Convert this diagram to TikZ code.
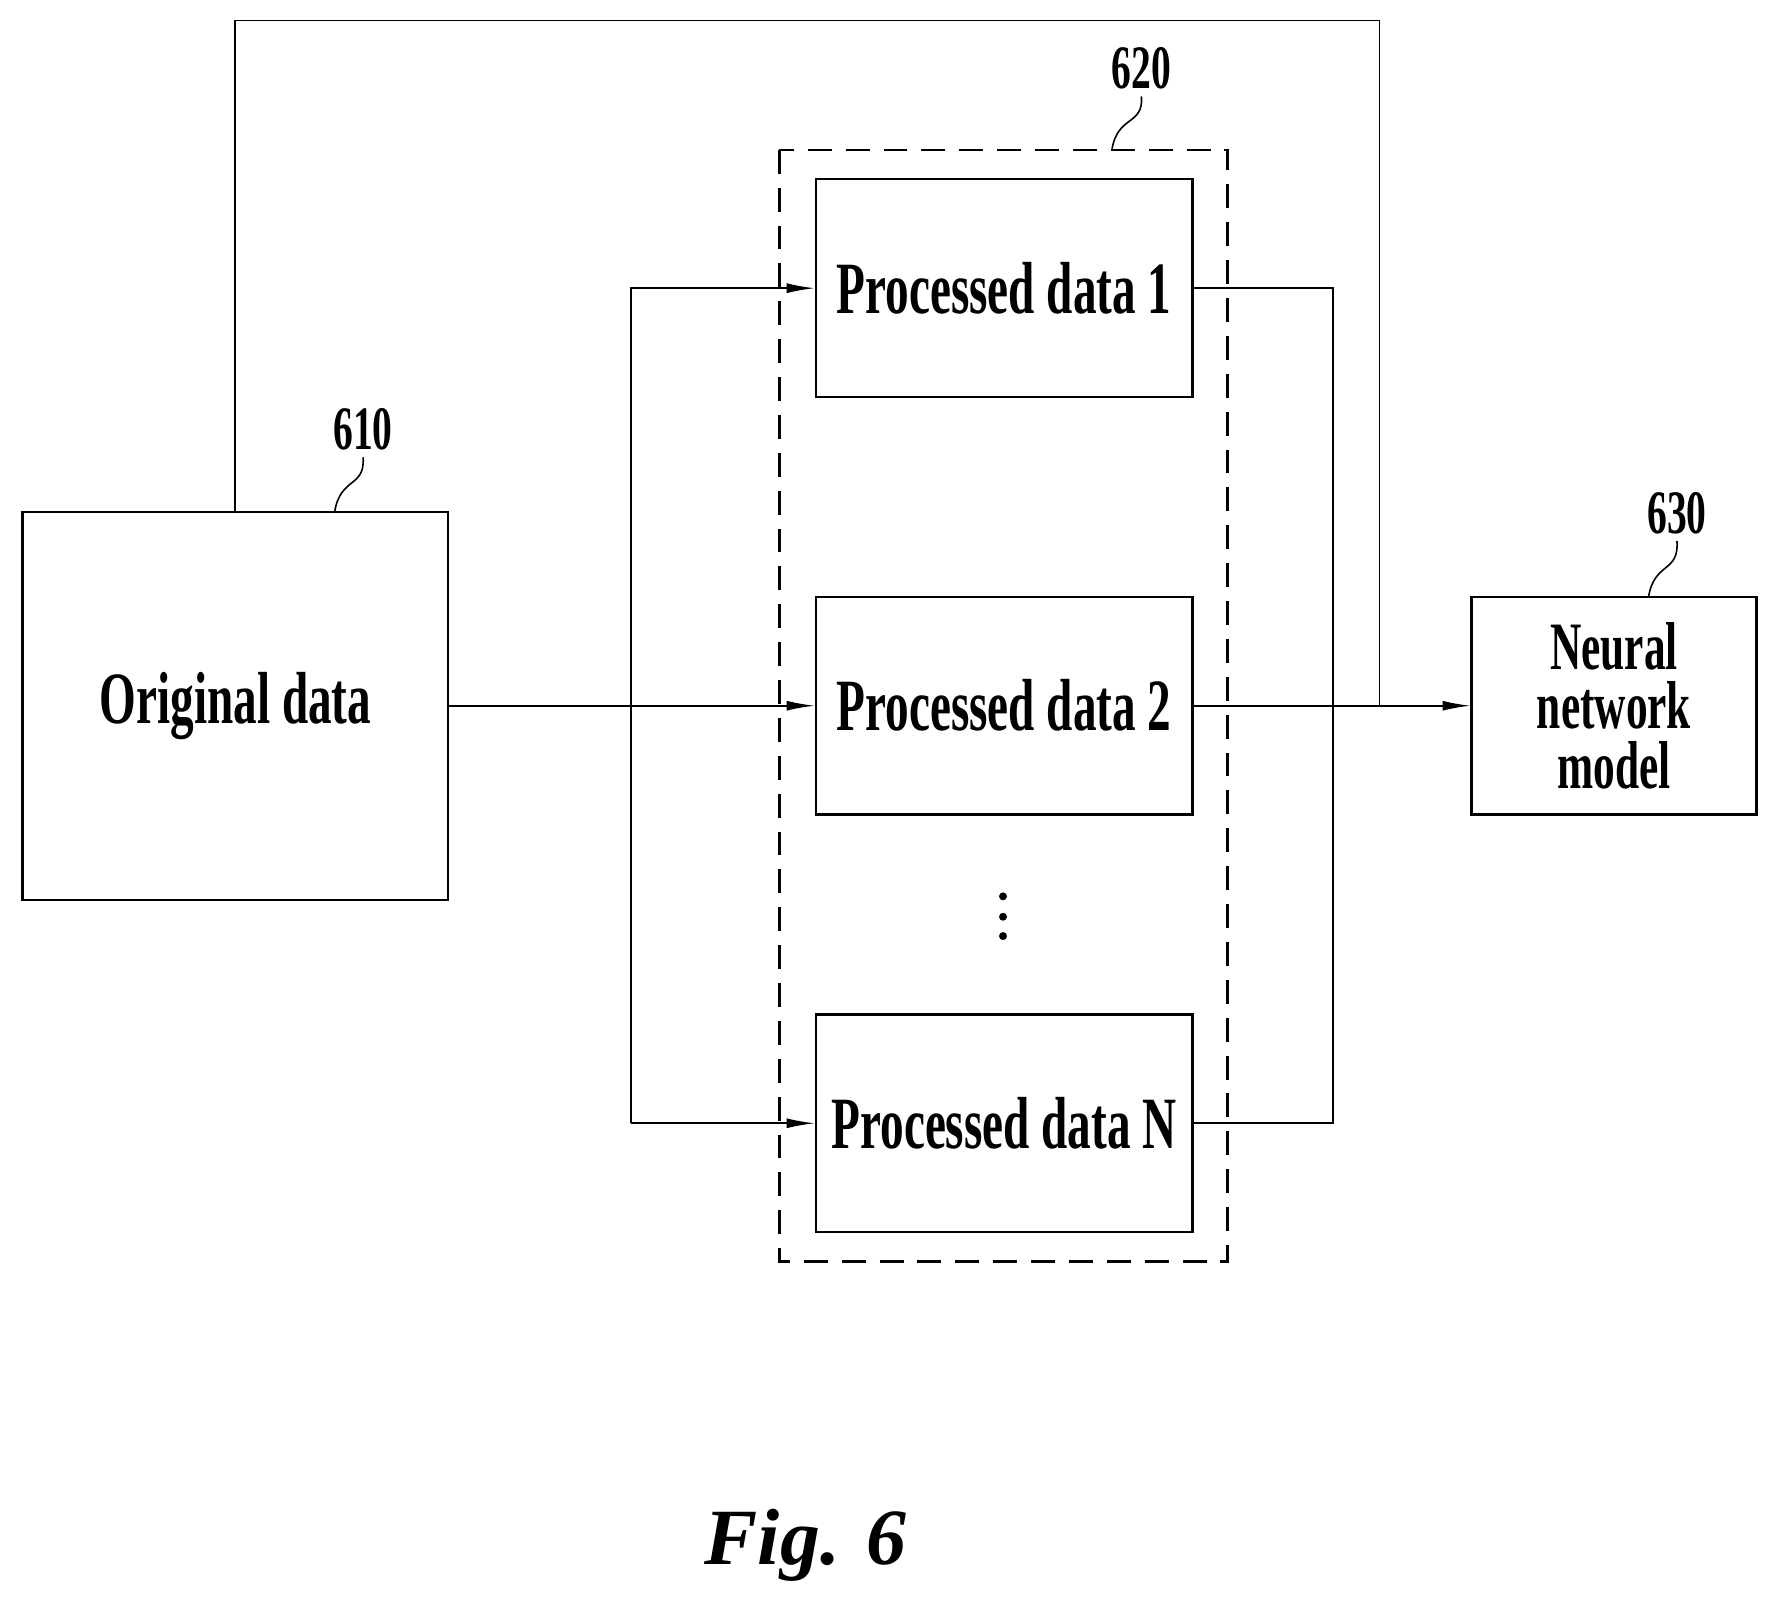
\documentclass[tikz,border=0pt]{standalone}
\usepackage{fontspec}
\setmainfont{Liberation Serif}
\newfontfamily\nf[FakeStretch=0.64]{Liberation Serif}
\usetikzlibrary{arrows.meta}
\begin{document}
\begin{tikzpicture}[x=0.02cm,y=-0.02cm,
  box/.style={draw,line width=1.2pt,inner sep=0pt,font=\nf\bfseries\fontsize{37}{38}\selectfont,align=center},
  ln/.style={line width=0.8pt},
  arr/.style={ln,-{Latex[length=14pt,width=5pt]}},
  lab/.style={font=\nf\bfseries\fontsize{31}{33}\selectfont}]
\useasboundingbox (0,0) rectangle (1560,1412);
\node[box,minimum width=375*0.02cm,minimum height=342*0.02cm] (orig) at (207.5,622) {Original data};
\draw[line width=1.2pt,dashed,dash pattern=on 12pt off 7pt] (687,132) rectangle (1082,1112);
\node[box,minimum width=332*0.02cm,minimum height=192*0.02cm] (p1) at (885,254) {Processed data 1};
\node[box,minimum width=332*0.02cm,minimum height=192*0.02cm] (p2) at (885,622) {Processed data 2};
\node[box,minimum width=332*0.02cm,minimum height=192*0.02cm] (pn) at (885,990) {Processed data N};
\node[box,minimum width=251*0.02cm,minimum height=192*0.02cm,font=\nf\bfseries\fontsize{34}{30}\selectfont] (nn) at (1422.5,622) {Neural\\network\\model};
\foreach \y in {790,808,825} \fill (884,\y) circle (3.5);
\coordinate (tl) at (556,254); \coordinate (bl) at (556,990);
\coordinate (tr) at (1175,254); \coordinate (br) at (1175,990);
\draw[arr] (orig.east) -- (p2.west);
\draw[arr] (bl) -- (tl) -- (p1.west);
\draw[arr] (556,990) -- (pn.west);
\draw[ln] (p1.east) -- (tr) -- (br) -- (pn.east);
\draw[arr] (p2.east) -- (nn.west);
\draw[ln] (207,451) -- (207,18) -- (1216,18) -- (1216,622);
\node[lab] (l610) at (320,378) {610};
\node[lab] (l620) at (1006,60) {620};
\node[lab] (l630) at (1478,452) {630};
\draw[ln] (295,451) .. controls (300,420) and (322,430) .. (320,403);
\draw[ln] (980,132) .. controls (985,101) and (1008,111) .. (1006,85);
\draw[ln] (1453,526) .. controls (1458,495) and (1480,505) .. (1478,477);
\node[font=\bfseries\itshape\fontsize{40}{44}\selectfont] (fig) at (710,1362) {Fig. 6};
\end{tikzpicture}
\end{document}
